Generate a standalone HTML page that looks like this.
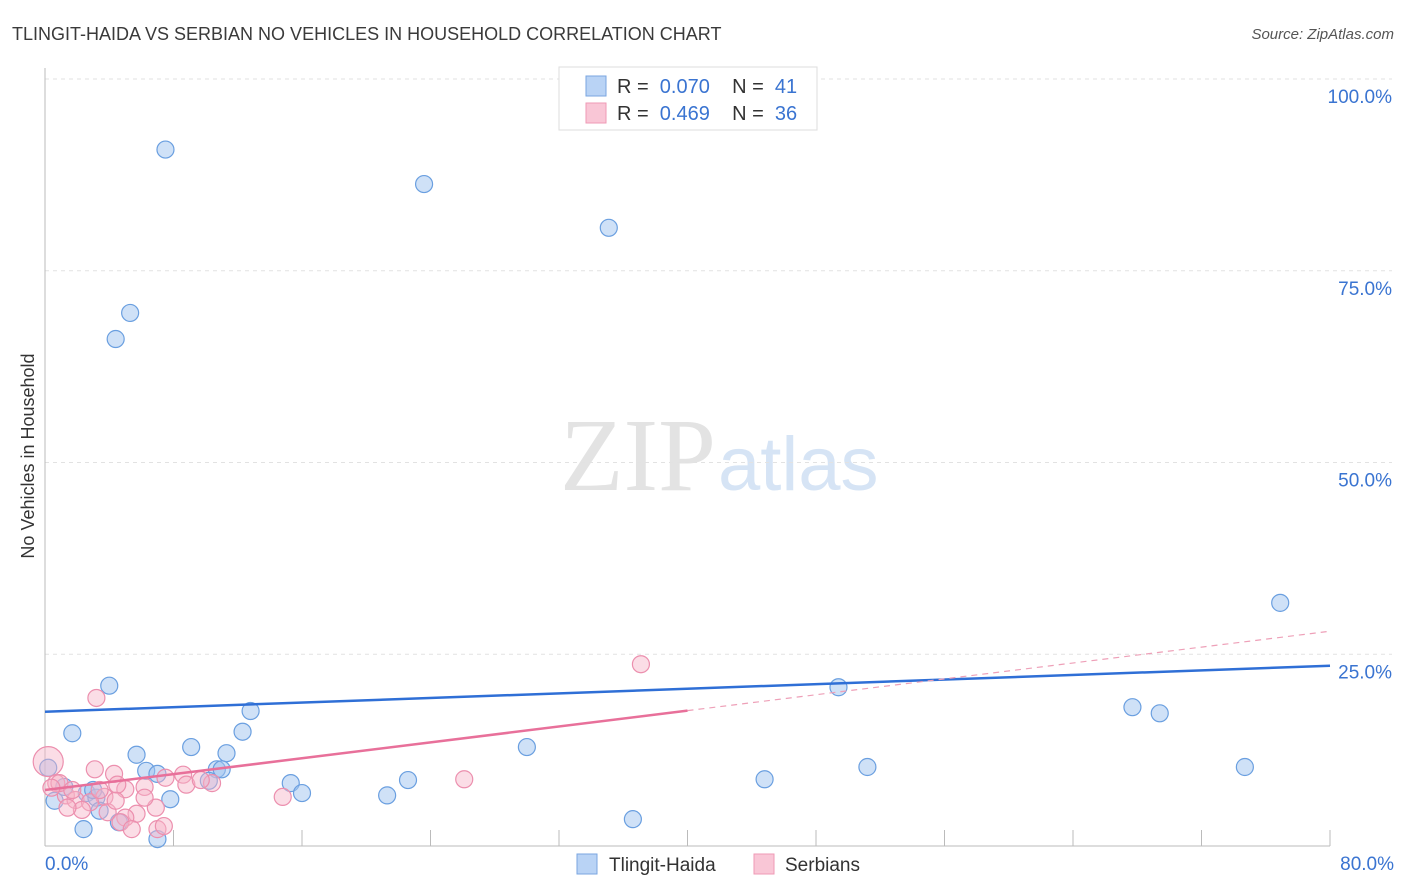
<!DOCTYPE html>
<html><head><meta charset="utf-8"><style>
body{margin:0;background:#fff;font-family:"Liberation Sans",sans-serif}
svg{display:block}
</style></head><body>
<svg id="c" width="1406" height="892" xmlns="http://www.w3.org/2000/svg">
<text x="12" y="40" font-size="18" fill="#3a3a3a">TLINGIT-HAIDA VS SERBIAN NO VEHICLES IN HOUSEHOLD CORRELATION CHART</text>
<text x="1394" y="39" font-size="15" fill="#555" font-style="italic" text-anchor="end">Source: ZipAtlas.com</text>
<text x="34" y="456" font-size="18" fill="#333" text-anchor="middle" transform="rotate(-90 34 456)">No Vehicles in Household</text>
<text x="716" y="490" font-size="104" fill="#e3e3e3" text-anchor="end" font-family="Liberation Serif">ZIP</text>
<text x="718" y="490" font-size="76" fill="#d6e4f5">atlas</text>
<g id="grid"></g><g id="marks"></g>
<g>
<rect x="559" y="67" width="258" height="63" fill="#fff" stroke="#ddd"/>
<rect x="586" y="76" width="20" height="20" fill="#b9d3f5" stroke="#7aa6e0"/>
<rect x="586" y="103" width="20" height="20" fill="#f9c6d6" stroke="#ef9ab5"/>
<text x="617" y="93" font-size="20" fill="#333" xml:space="preserve">R =  <tspan fill="#3a74d1">0.070</tspan>    N =  <tspan fill="#3a74d1">41</tspan></text>
<text x="617" y="120" font-size="20" fill="#333" xml:space="preserve">R =  <tspan fill="#3a74d1">0.469</tspan>    N =  <tspan fill="#3a74d1">36</tspan></text>
</g>
<g>
<rect x="577" y="854" width="20" height="20" fill="#b9d3f5" stroke="#7aa6e0"/>
<text x="609" y="871" font-size="19" fill="#333">Tlingit-Haida</text>
<rect x="754" y="854" width="20" height="20" fill="#f9c6d6" stroke="#ef9ab5"/>
<text x="785" y="871" font-size="19" fill="#333">Serbians</text>
</g>
</svg>
<script>
const yTicks=[25,50,75,100];
const yTickLabels=["25.0%","50.0%","75.0%","100.0%"];
const xTickLabels=["0.0%","80.0%"];
const blueX=[7.5,23.6,35.1,5.3,4.4,76.9,4.0,12.8,49.4,67.7,69.4,1.7,12.3,9.1,5.7,11.3,30.0,74.7,51.2,44.8,6.3,7.0,10.7,10.2,22.6,15.3,0.2,1.2,2.6,16.0,7.8,0.6,3.2,21.3,3.4,36.6,4.6,2.4,7.0,11.0,3.0];
const blueY=[90.8,86.3,80.6,69.5,66.1,31.7,20.9,17.6,20.7,18.1,17.3,14.7,14.9,12.9,11.9,12.1,12.9,10.3,10.3,8.7,9.8,9.4,10.0,8.5,8.6,8.2,10.2,7.7,6.9,6.9,6.1,5.9,6.3,6.6,4.6,3.5,3.1,2.2,0.9,10.0,7.3];
const pinkX=[3.2,37.1,0.2,0.7,3.1,4.3,8.6,7.5,10.4,26.1,6.2,8.8,5.0,3.7,1.3,1.9,0.9,2.8,14.8,2.3,3.9,5.7,6.9,5.0,4.7,5.4,7.0,7.4,1.7,4.5,6.2,9.7,1.4,3.4,0.4,4.4];
const pinkY=[19.3,23.7,11.0,8.2,10.0,9.4,9.3,8.9,8.2,8.7,7.7,8.0,7.4,6.4,6.6,6.0,8.2,5.7,6.4,4.7,4.4,4.2,5.0,3.7,3.1,2.2,2.2,2.6,7.3,8.0,6.3,8.6,5.0,7.3,7.6,5.9];
const blueTrend=[17.5,23.5];
const pinkTrend=[7.3,28.0];
const pinkSolidEnd=40;
const X=v=>45+v*(1285/80), Y=v=>846-v*(767/100);
const NS="http://www.w3.org/2000/svg";
function mk(t,a,p){const e=document.createElementNS(NS,t);for(const k in a)e.setAttribute(k,a[k]);p.appendChild(e);return e;}
const g=document.getElementById('grid'),m=document.getElementById('marks');
yTicks.forEach((t,i)=>{
 const l=mk('line',{x1:45,x2:1392,y1:Y(t),y2:Y(t),stroke:'#e2e2e2','stroke-dasharray':'4,4'},g);
 
 
 const tx=mk('text',{x:1392,y:Y(t)+24,'font-size':19,fill:'#3a74d1','text-anchor':'end'},g);
 tx.textContent=yTickLabels[i];
 
 
});
mk('line',{x1:45,x2:45,y1:68,y2:846,stroke:'#bbb'},g);
mk('line',{x1:45,x2:1330,y1:846,y2:846,stroke:'#bbb'},g);
for(let i=1;i<=10;i++){const t=mk('line',{x1:X(i*8),x2:X(i*8),y1:830,y2:846,stroke:'#bbb'},g);
 
 }
[[0,'start',45],[80,'end',1394]].forEach((d,i)=>{const t=mk('text',{x:d[2],y:870,'font-size':19,fill:'#3a74d1','text-anchor':d[1]},g);t.textContent=xTickLabels[i];
 
 });
blueX.forEach((x,i)=>{const c=mk('circle',{cx:X(x),cy:Y(blueY[i]),r:8.5,fill:'rgba(160,196,240,0.5)',stroke:'#6a9fe0','stroke-width':1.2},m);
 
 });
pinkX.forEach((x,i)=>{const c=mk('circle',{cx:X(x),cy:Y(pinkY[i]),r:i==2?15:8.5,fill:'rgba(246,180,200,0.45)',stroke:'#ec8fae','stroke-width':1.2},m);
 
 });
const pAt=x=>pinkTrend[0]+(pinkTrend[1]-pinkTrend[0])*x/80;
let l=mk('line',{x1:X(0),y1:Y(blueTrend[0]),x2:X(80),y2:Y(blueTrend[1]),stroke:'#2f6fd6','stroke-width':2.5},m);


l=mk('line',{x1:X(0),y1:Y(pAt(0)),x2:X(pinkSolidEnd),y2:Y(pAt(pinkSolidEnd)),stroke:'#e8709a','stroke-width':2.5},m);


l=mk('line',{x1:X(pinkSolidEnd),y1:Y(pAt(pinkSolidEnd)),x2:X(80),y2:Y(pAt(80)),stroke:'#eea0b8','stroke-width':1.2,'stroke-dasharray':'6,5'},m);


</script>
</body></html>
